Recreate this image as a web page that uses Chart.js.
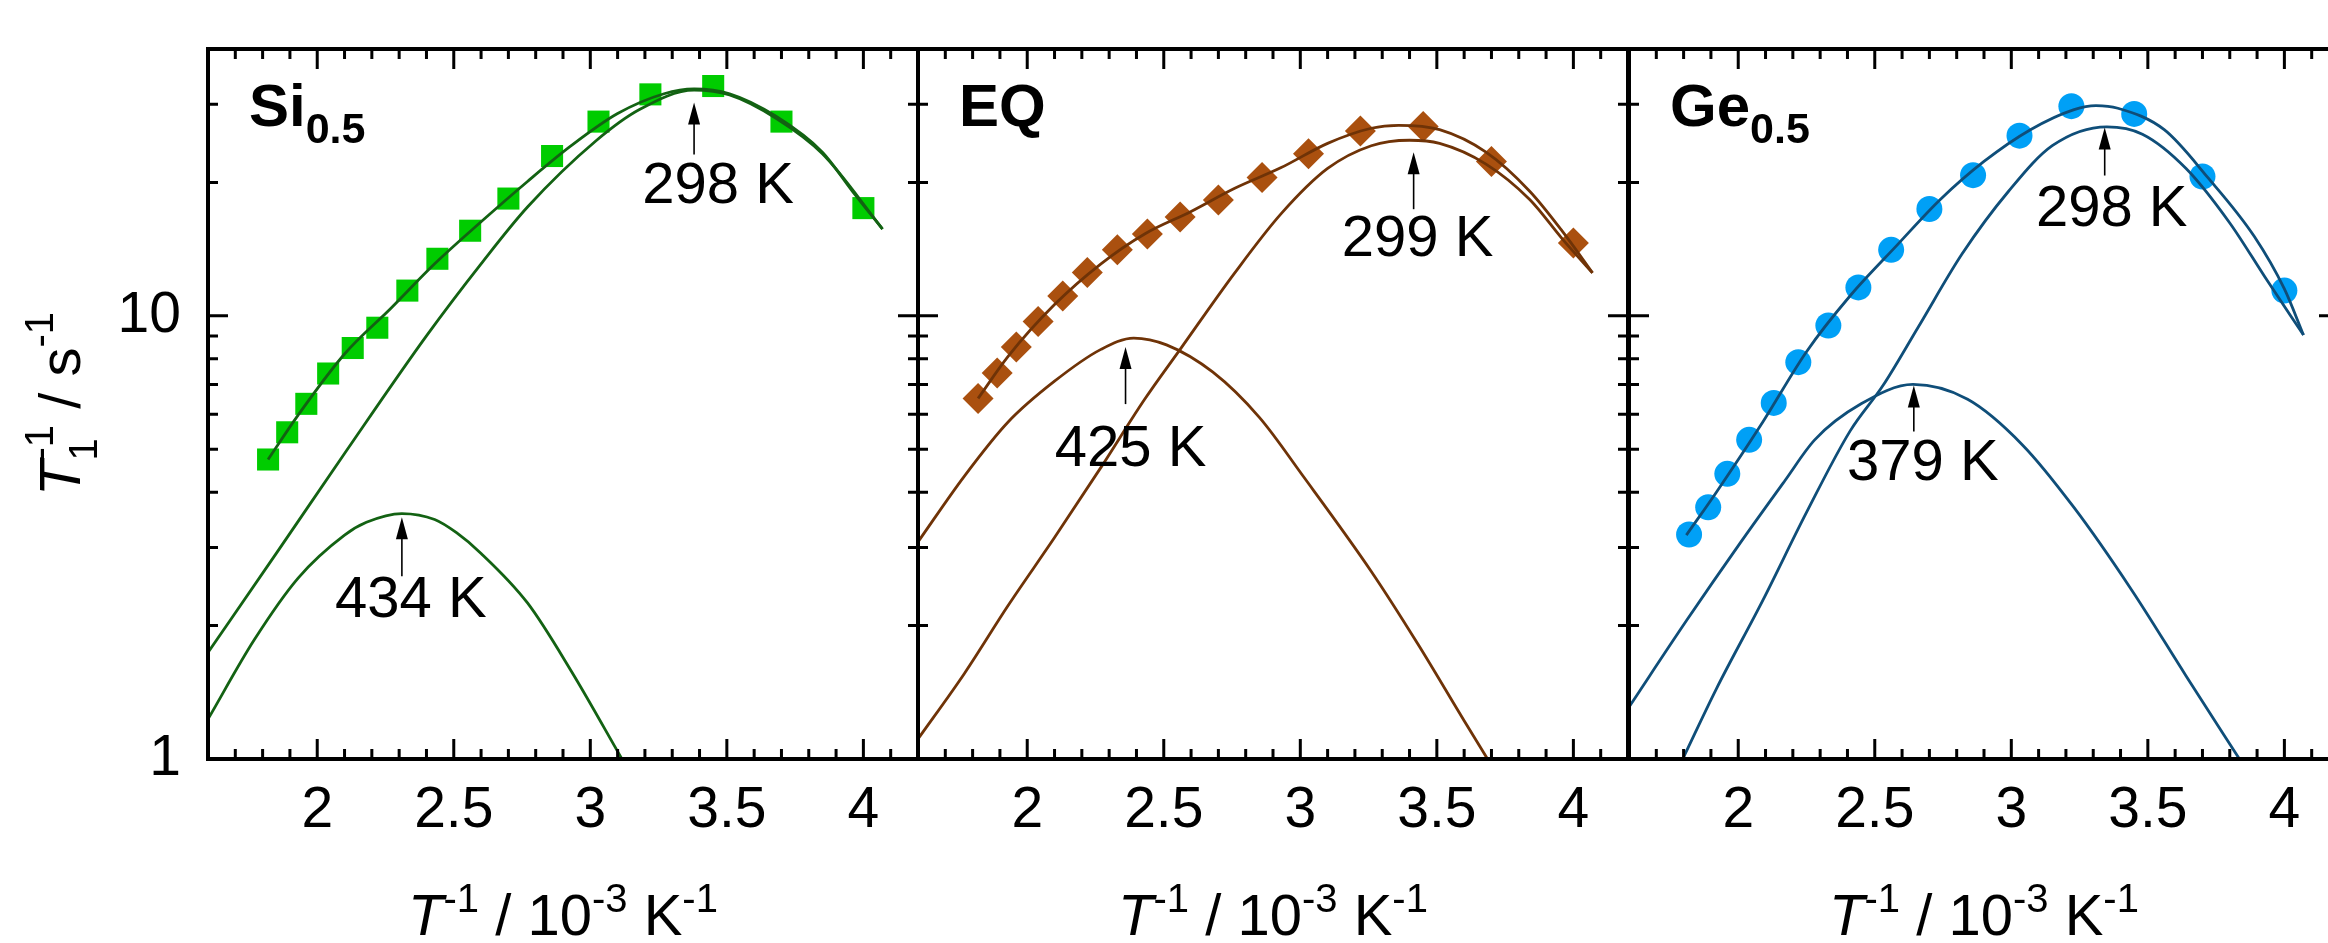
<!DOCTYPE html>
<html>
<head>
<meta charset="utf-8">
<script src="https://cdn.jsdelivr.net/npm/chart.js@4.4.1/dist/chart.umd.min.js"></script>
<style>
  html, body { margin: 0; padding: 0; background: #fff; overflow: hidden; }
  body { width: 2328px; height: 943px; position: relative; }
  .panel { position: absolute; top: 0; width: 940px; height: 943px; }
</style>
</head>
<body>
<div class="panel" style="left:0px"><canvas id="chartSi"></canvas></div>
<div class="panel" style="left:710px"><canvas id="chartEQ"></canvas></div>
<div class="panel" style="left:1421px"><canvas id="chartGe"></canvas></div>
<script>
// === DATA (x = 1/T in 10^-3 K^-1, y = T1^-1 in s^-1) ===
const xTicks = [2, 2.5, 3, 3.5, 4];
const xMinorTicks = [1.7, 1.8, 1.9, 2.1, 2.2, 2.3, 2.4, 2.6, 2.7, 2.8, 2.9, 3.1, 3.2, 3.3, 3.4, 3.6, 3.7, 3.8, 3.9, 4.1];
const yTicks = [1, 10];
const yMinorTicks = [2, 3, 4, 5, 6, 7, 8, 9, 20, 30];

// measured points (same temperatures in all three samples)
const pointX = [1.82, 1.89, 1.96, 2.04, 2.13, 2.22, 2.33, 2.44, 2.56, 2.70, 2.86, 3.03, 3.22, 3.45, 3.70, 4.00];

// Si0.5
const siPoints = [4.74, 5.46, 6.33, 7.41, 8.46, 9.40, 11.4, 13.45, 15.56, 18.39, 22.94, 27.43, 31.6, 33.0, 27.43, 17.5];
const siFitX = [1.82, 1.93, 2.10, 2.27, 2.43, 2.60, 2.77, 2.93, 3.10, 3.27, 3.38, 3.51, 3.68, 3.85, 3.96, 4.07];
const siFitY = [4.74, 5.97, 8.20, 10.4, 13.1, 16.3, 20.1, 24.2, 28.6, 31.7, 32.5, 31.7, 28.2, 23.4, 19.1, 15.7];
const si298X = [1.60, 1.85, 2.10, 2.40, 2.60, 2.77, 3.02, 3.18, 3.38, 3.51, 3.68, 3.85, 4.07];
const si298Y = [1.74, 2.91, 4.89, 9.01, 13.1, 17.6, 24.8, 29.2, 32.3, 31.5, 27.9, 23.2, 15.7];
const si434X = [1.60, 1.77, 1.93, 2.10, 2.18, 2.31, 2.43, 2.51, 2.60, 2.77, 2.93, 3.12];
const si434Y = [1.23, 1.86, 2.56, 3.20, 3.42, 3.58, 3.47, 3.24, 2.91, 2.25, 1.58, 0.99];

// EQ
const eqPoints = [6.51, 7.43, 8.50, 9.71, 11.08, 12.53, 14.09, 15.30, 16.70, 18.25, 20.53, 23.21, 26.11, 26.73, 22.30, 14.60];
const eqFitX = [1.82, 1.93, 2.10, 2.27, 2.43, 2.60, 2.76, 2.93, 3.10, 3.26, 3.36, 3.51, 3.68, 3.84, 3.96, 4.07];
const eqFitY = [6.51, 8.10, 10.6, 13.1, 15.3, 17.2, 19.4, 21.6, 24.5, 26.5, 26.9, 26.3, 23.4, 19.1, 15.5, 12.5];
const eq299X = [1.60, 1.77, 1.93, 2.10, 2.27, 2.43, 2.56, 2.76, 2.93, 3.10, 3.26, 3.40, 3.51, 3.68, 3.84, 3.96, 4.07];
const eq299Y = [1.11, 1.56, 2.22, 3.16, 4.55, 6.48, 8.40, 12.5, 17.0, 21.5, 24.2, 24.9, 24.5, 22.0, 18.3, 14.9, 12.5];
const eq425X = [1.60, 1.77, 1.93, 2.10, 2.27, 2.39, 2.51, 2.68, 2.85, 3.01, 3.26, 3.43, 3.60, 3.69];
const eq425Y = [3.09, 4.35, 5.76, 7.12, 8.40, 8.91, 8.60, 7.46, 5.90, 4.35, 2.65, 1.82, 1.22, 0.99];

// Ge0.5
const gePoints = [3.21, 3.70, 4.40, 5.25, 6.36, 7.86, 9.51, 11.59, 14.09, 17.42, 20.77, 25.5, 29.72, 28.55, 20.63, 11.40];
const geFitX = [1.81, 1.92, 2.09, 2.25, 2.41, 2.58, 2.74, 2.90, 3.07, 3.23, 3.31, 3.39, 3.56, 3.72, 3.89, 4.00, 4.07];
const geFitY = [3.20, 4.00, 5.76, 8.30, 11.1, 14.4, 18.3, 22.3, 26.3, 29.2, 29.8, 29.4, 26.3, 20.5, 15.1, 11.5, 9.05];
const ge298X = [1.80, 1.92, 2.09, 2.25, 2.41, 2.53, 2.66, 2.82, 2.99, 3.15, 3.35, 3.48, 3.64, 3.80, 3.93, 4.07];
const ge298Y = [1.01, 1.44, 2.28, 3.60, 5.50, 6.96, 9.45, 13.8, 19.1, 24.2, 26.7, 25.7, 21.5, 16.2, 12.2, 9.05];
const ge379X = [1.60, 1.81, 2.01, 2.17, 2.28, 2.45, 2.64, 2.84, 3.04, 3.23, 3.44, 3.64, 3.84];
const ge379Y = [1.31, 2.05, 3.09, 4.24, 5.25, 6.33, 7.00, 6.48, 5.12, 3.69, 2.41, 1.54, 0.99];

// peak arrows: x position, value at the arrow tip, label
const siArrowX = [3.38, 2.31];
const siArrowTip = [30.3, 3.51];
const siArrowText = ['298 K', '434 K'];
const eqArrowX = [3.415, 2.36];
const eqArrowTip = [23.4, 8.5];
const eqArrowText = ['299 K', '425 K'];
const geArrowX = [3.342, 2.643];
const geArrowTip = [26.6, 6.96];
const geArrowText = ['298 K', '379 K'];

// === STYLE ===
const FONT = '"Liberation Sans", Arial, Helvetica, sans-serif';
const fMain = `58px ${FONT}`;
const fItal = `italic 58px ${FONT}`;
const fSup = `40px ${FONT}`;

function pts(xs, ys) {
    return xs.map((x, i) => ({ x: x, y: ys[i] }));
}

// draws text made of several runs (sub/superscripts), left start at x, baseline y
function runsWidth(ctx, runs) {
    let w = 0, pend = 0;
    for (const r of runs) {
        ctx.font = r.f;
        const rw = ctx.measureText(r.t).width;
        if (r.stack) { pend = Math.max(pend, rw); continue; }
        w += Math.max(pend, rw); pend = 0;
    }
    return w;
}
function drawRuns(ctx, runs, x, y) {
    let cx = x, pend = 0;
    for (const r of runs) {
        ctx.font = r.f;
        ctx.fillText(r.t, cx, y + (r.dy || 0));
        const rw = ctx.measureText(r.t).width;
        if (r.stack) { pend = Math.max(pend, rw); continue; }
        cx += Math.max(pend, rw); pend = 0;
    }
}

const xTitleRuns = [
    { t: 'T', f: fItal }, { t: '-1', f: fSup, dy: -23 },
    { t: ' / 10', f: fMain }, { t: '-3', f: fSup, dy: -23 },
    { t: ' K', f: fMain }, { t: '-1', f: fSup, dy: -23 }
];
const yTitleRuns = [
    { t: 'T', f: fItal }, { t: '-1', f: fSup, dy: -27, stack: true }, { t: '1', f: fSup, dy: 17 },
    { t: ' / s', f: fMain }, { t: '-1', f: fSup, dy: -27 }
];

// === Frame, inward ticks, titles, labels, arrows ===
const panelDecor = {
    id: 'panelDecor',
    afterDraw(chart, args, o) {
        const ctx = chart.ctx;
        const a = chart.chartArea;
        const xs = chart.scales.x, ys = chart.scales.y;
        ctx.save();
        ctx.strokeStyle = '#000';
        ctx.fillStyle = '#000';

        // ticks
        ctx.lineWidth = 3;
        ctx.beginPath();
        const xt = (vals, len) => vals.forEach(v => {
            const px = xs.getPixelForValue(v);
            ctx.moveTo(px, a.bottom); ctx.lineTo(px, a.bottom - len);
            ctx.moveTo(px, a.top); ctx.lineTo(px, a.top + len);
        });
        const yt = (vals, len) => vals.forEach(v => {
            const py = ys.getPixelForValue(v);
            ctx.moveTo(a.left, py); ctx.lineTo(a.left + len, py);
            ctx.moveTo(a.right, py); ctx.lineTo(a.right - len, py);
        });
        xt(xTicks, 20); xt(xMinorTicks, 10);
        yt(yTicks, 20); yt(yMinorTicks, 10);
        ctx.stroke();

        // frame
        ctx.lineWidth = 4;
        ctx.strokeRect(a.left, a.top, a.right - a.left, a.bottom - a.top);

        // x title
        ctx.textAlign = 'left';
        ctx.textBaseline = 'alphabetic';
        const cx = (a.left + a.right) / 2;
        drawRuns(ctx, xTitleRuns, cx - runsWidth(ctx, xTitleRuns) / 2, 935);

        // y title (first panel only)
        if (o.yTitle) {
            ctx.save();
            ctx.translate(80, (a.top + a.bottom) / 2);
            ctx.rotate(-Math.PI / 2);
            drawRuns(ctx, yTitleRuns, -runsWidth(ctx, yTitleRuns) / 2, 0);
            ctx.restore();
        }

        // sample label
        drawRuns(ctx, o.label, a.left + 41, a.top + 77);

        // peak arrows
        o.arrows.x.forEach((v, i) => {
            const px = xs.getPixelForValue(v);
            const py = ys.getPixelForValue(o.arrows.tip[i]);
            const st = o.arrowStyle[i];
            ctx.beginPath();
            ctx.moveTo(px, py);
            ctx.lineTo(px - 6, py + 22);
            ctx.lineTo(px + 6, py + 22);
            ctx.closePath();
            ctx.fill();
            ctx.lineWidth = 1.6;
            ctx.beginPath();
            ctx.moveTo(px, py + 20);
            ctx.lineTo(px, py + st.len);
            ctx.stroke();
            ctx.font = fMain;
            ctx.textAlign = 'center';
            ctx.textBaseline = 'middle';
            ctx.fillText(o.arrows.text[i], px + st.dx, py + st.dy);
            ctx.textAlign = 'left';
            ctx.textBaseline = 'alphabetic';
        });
        ctx.restore();
    }
};

function makePanel(id, p) {
    const lineDs = (xs, ys) => ({
        data: pts(xs, ys),
        showLine: true,
        borderColor: p.lineColor,
        borderWidth: 2.8,
        pointRadius: 0,
        cubicInterpolationMode: 'monotone',
        fill: false
    });
    return new Chart(document.getElementById(id), {
        type: 'scatter',
        data: {
            datasets: [
                lineDs(p.fitX, p.fitY),
                lineDs(p.c1X, p.c1Y),
                lineDs(p.c2X, p.c2Y),
                {
                    data: pts(pointX, p.points),
                    showLine: false,
                    pointStyle: p.marker,
                    pointRadius: p.markerRadius,
                    pointBackgroundColor: p.markerColor,
                    pointBorderWidth: 0
                }
            ]
        },
        options: {
            responsive: true,
            maintainAspectRatio: false,
            animation: false,
            events: [],
            layout: { padding: { top: 49, right: 22, left: 0, bottom: 0 }, autoPadding: false },
            plugins: {
                legend: { display: false },
                tooltip: { enabled: false },
                panelDecor: p.decor
            },
            scales: {
                x: {
                    type: 'linear', min: 1.6, max: 4.2,
                    afterBuildTicks: s => { s.ticks = xTicks.map(v => ({ value: v })); },
                    afterFit: s => { s.height = 184; s.paddingLeft = 0; s.paddingRight = 0; },
                    grid: { display: false, drawTicks: false },
                    border: { display: false },
                    ticks: {
                        padding: 18, color: '#000', maxRotation: 0, autoSkip: false,
                        font: { family: FONT, size: 57 },
                        callback: v => String(v)
                    }
                },
                y: {
                    type: 'logarithmic', min: 1, max: 40,
                    afterBuildTicks: s => { s.ticks = yTicks.map(v => ({ value: v })); },
                    afterFit: s => { s.width = 208; s.paddingTop = 0; s.paddingBottom = 0; },
                    grid: { display: false, drawTicks: false },
                    border: { display: false },
                    ticks: {
                        display: p.yLabels, padding: 27, color: '#000', autoSkip: false,
                        font: { family: FONT, size: 57 },
                        callback: v => String(v)
                    }
                }
            }
        },
        plugins: [panelDecor]
    });
}

const fBold = `bold 60px ${FONT}`;
const fBoldSub = `bold 43px ${FONT}`;

makePanel('chartSi', {
    points: siPoints, fitX: siFitX, fitY: siFitY,
    c1X: si298X, c1Y: si298Y, c2X: si434X, c2Y: si434Y,
    marker: 'rect', markerRadius: 15.6, markerColor: '#00cc00', lineColor: '#136213',
    yLabels: true,
    decor: {
        yTitle: true,
        label: [{ t: 'Si', f: fBold }, { t: '0.5', f: fBoldSub, dy: 17 }],
        arrows: { x: siArrowX, tip: siArrowTip, text: siArrowText },
        arrowStyle: [{ len: 52, dx: 24, dy: 85 }, { len: 59, dx: 9, dy: 84 }]
    }
});

makePanel('chartEQ', {
    points: eqPoints, fitX: eqFitX, fitY: eqFitY,
    c1X: eq299X, c1Y: eq299Y, c2X: eq425X, c2Y: eq425Y,
    marker: 'rectRot', markerRadius: 15.5, markerColor: '#aa500f', lineColor: '#6f3307',
    yLabels: false,
    decor: {
        yTitle: false,
        label: [{ t: 'EQ', f: fBold }],
        arrows: { x: eqArrowX, tip: eqArrowTip, text: eqArrowText },
        arrowStyle: [{ len: 57, dx: 4, dy: 88 }, { len: 57, dx: 5, dy: 103 }]
    }
});

makePanel('chartGe', {
    points: gePoints, fitX: geFitX, fitY: geFitY,
    c1X: ge298X, c1Y: ge298Y, c2X: ge379X, c2Y: ge379Y,
    marker: 'circle', markerRadius: 13, markerColor: '#00a0f6', lineColor: '#0f4e79',
    yLabels: false,
    decor: {
        yTitle: false,
        label: [{ t: 'Ge', f: fBold }, { t: '0.5', f: fBoldSub, dy: 17 }],
        arrows: { x: geArrowX, tip: geArrowTip, text: geArrowText },
        arrowStyle: [{ len: 48, dx: 7, dy: 82 }, { len: 46, dx: 9, dy: 78 }]
    }
});
</script>
</body>
</html>
